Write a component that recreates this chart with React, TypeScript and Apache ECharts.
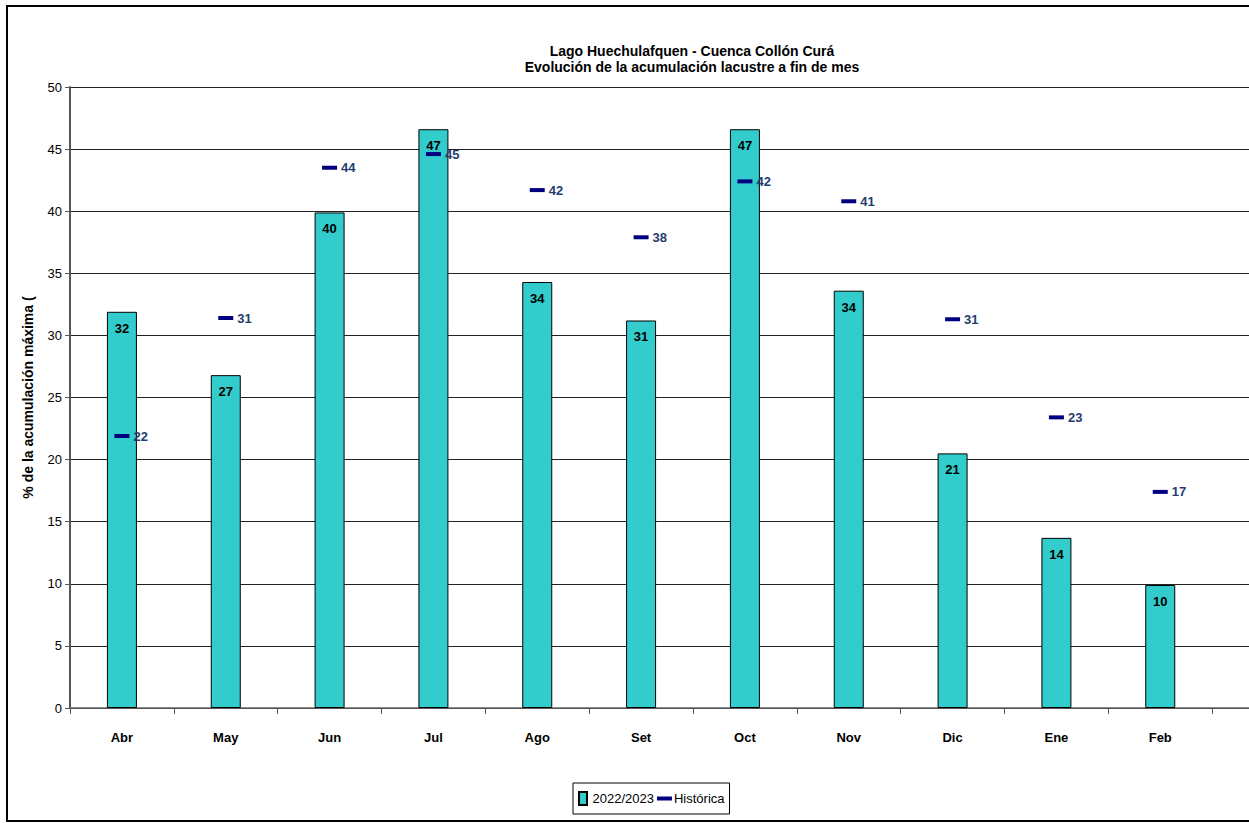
import React, { useEffect, useRef } from "react";
import * as echarts from "echarts";

// Categories (12th slot = Mar, off-screen in the reference)
const months = ["Abr", "May", "Jun", "Jul", "Ago", "Set", "Oct", "Nov", "Dic", "Ene", "Feb", ""];
const season2022: (number | null)[] = [31.9, 26.8, 39.9, 46.6, 34.3, 31.2, 46.6, 33.6, 20.5, 13.7, 9.9, null];
const historica: (number | null)[] = [21.9, 31.4, 43.5, 44.6, 41.7, 37.9, 42.4, 40.8, 31.3, 23.4, 17.4, null];
const yTicks = { min: 0, max: 50, interval: 5 };

const titleLines = [
  "Lago Huechulafquen - Cuenca Collón Curá",
  "Evolución de la acumulación lacustre a fin de mes",
];
const yName = "% de la acumulación máxima (";
const seriesNames = ["2022/2023", "Histórica"];

const FONT = "'Liberation Sans', Arial, sans-serif";

export default function App() {
  const ref = useRef<HTMLDivElement>(null);
  useEffect(() => {
    if (!ref.current) return;
    const chart = echarts.init(ref.current, undefined, { renderer: "svg" });
    chart.setOption({
      animation: false,
      backgroundColor: "#ffffff",
      textStyle: { fontFamily: FONT },
      title: {
        text: titleLines.join("\n"),
        left: 687,
        top: 38,
        textAlign: "center",
        textStyle: { fontSize: 14, fontWeight: "bold", color: "#000", lineHeight: 16, fontFamily: FONT },
      },
      graphic: [
        {
          type: "rect",
          shape: { x: 7, y: 6, width: 1400, height: 815 },
          style: { fill: "none", stroke: "#000", lineWidth: 2 },
          silent: true,
          z: 100,
        },
      ],
      legend: {
        left: 573,
        top: 783,
        padding: [8, 5, 8, 5],
        borderColor: "#000",
        borderWidth: 1,
        itemGap: 3,
        itemWidth: 15,
        itemHeight: 13,
        textStyle: { fontSize: 13, color: "#000", fontFamily: FONT, padding: [0, 0, 0, -3] },
        data: [
          { name: seriesNames[0], icon: "path://M0,0h8v13h-8z" },
          { name: seriesNames[1], icon: "path://M0,0h15v4h-15z" },
        ],
      },
      grid: { left: 70, top: 87, bottom: 115, right: 14, containLabel: false },
      xAxis: {
        type: "category",
        data: months,
        boundaryGap: true,
        axisLine: { lineStyle: { color: "#666", width: 1.5 } },
        axisTick: { show: true, alignWithLabel: false, length: 6, lineStyle: { color: "#555" } },
        axisLabel: { fontSize: 13, fontWeight: "bold", color: "#000", margin: 23, fontFamily: FONT },
        splitLine: { show: false },
      },
      yAxis: {
        type: "value",
        min: yTicks.min,
        max: yTicks.max,
        interval: yTicks.interval,
        name: yName,
        nameLocation: "middle",
        nameGap: 35,
        nameTextStyle: { fontSize: 14, fontWeight: "bold", color: "#000", fontFamily: FONT },
        axisLine: { show: true, lineStyle: { color: "#555", width: 2 } },
        axisTick: { show: true, length: 5, lineStyle: { color: "#555" } },
        axisLabel: { fontSize: 13, color: "#000", margin: 8, fontFamily: FONT },
        splitLine: { show: true, lineStyle: { color: "#222", width: 1 } },
      },
      series: [
        {
          name: seriesNames[0],
          type: "bar",
          data: season2022,
          barWidth: 30,
          itemStyle: { color: "#33CCCC", borderColor: "#000", borderWidth: 1 },
          label: {
            show: true,
            position: "insideTop",
            distance: 10,
            fontSize: 13,
            fontWeight: "bold",
            color: "#000",
            fontFamily: FONT,
            formatter: (p: any) => (p.value == null ? "" : String(Math.round(p.value))),
          },
          z: 2,
        },
        {
          name: seriesNames[1],
          type: "scatter",
          data: historica,
          symbol: "rect",
          symbolSize: [15, 4],
          itemStyle: { color: "#000080", opacity: 1 },
          label: {
            show: true,
            position: "right",
            distance: 4,
            fontSize: 13,
            fontWeight: "bold",
            color: "#1F3D6E",
            opacity: 1,
            fontFamily: FONT,
            formatter: (p: any) => (p.value == null ? "" : String(Math.round(p.value))),
          },
          z: 3,
        },
      ],
    });
    return () => chart.dispose();
  }, []);
  return (
    <div style={{ position: "absolute", left: 0, top: 0, width: 1249, height: 823, overflow: "hidden" }}>
      <div ref={ref} style={{ width: 1330, height: 823 }} />
    </div>
  );
}
